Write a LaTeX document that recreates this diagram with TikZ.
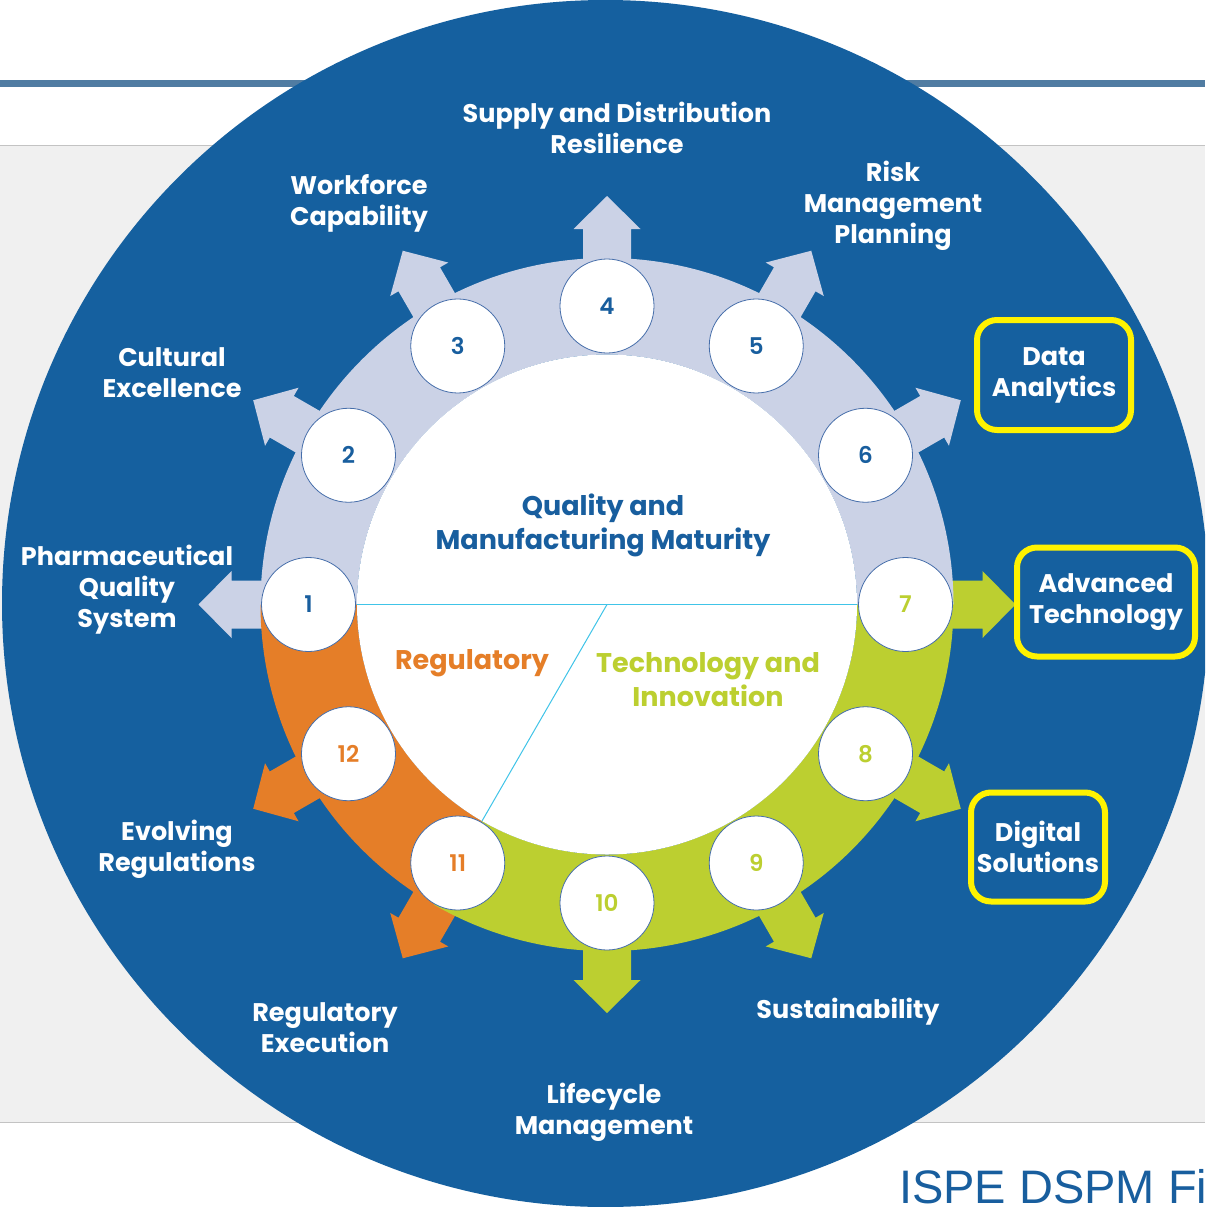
\documentclass[tikz,border=0pt]{standalone}
\usepackage{fontspec}
\setmainfont{Poppins}
\newfontfamily\arialfont{Liberation Sans}
\IfFontExistsTF{Poppins SemiBold}{\newfontfamily\numfont{Poppins SemiBold}}{%
  \IfFontExistsTF{Poppins Medium}{\newfontfamily\numfont{Poppins Medium}}{\newcommand\numfont{\bfseries}}}
\definecolor{ispeblue}{RGB}{21,96,159}
\definecolor{lav}{RGB}{203,210,230}
\definecolor{orng}{RGB}{229,126,40}
\definecolor{grn}{RGB}{188,207,48}
\definecolor{nodeedge}{RGB}{70,110,170}
\definecolor{divline}{RGB}{64,196,232}
\definecolor{topline}{RGB}{80,124,162}
\definecolor{band}{RGB}{240,240,240}
\definecolor{bandedge}{RGB}{195,195,195}
\definecolor{ylw}{RGB}{255,242,0}
\definecolor{txtblue}{RGB}{24,94,158}
\begin{document}
\begin{tikzpicture}[x=1pt,y=-1pt,
  lbl/.style={text=white, font=\fontsize{25.5}{31}\selectfont\bfseries, align=center, inner sep=0pt},
  ctr/.style={font=\fontsize{27}{34}\selectfont\bfseries, align=center, inner sep=0pt},
  ybox/.style={draw=ylw, line width=6pt, rounded corners=20pt, inner sep=0pt},
  numnode/.style={circle, fill=white, draw=nodeedge, line width=0.8pt, minimum size=94pt, inner sep=0pt, font=\fontsize{23}{23}\selectfont\numfont},
  divider/.style={divline, line width=1pt}
]
\useasboundingbox (0,0) rectangle (1205,1207);
\clip (0,0) rectangle (1205,1207);
% background
\fill[white] (0,0) rectangle (1205,1207);
\fill[topline] (0,80) rectangle (1205,87);
\fill[band] (0,145) rectangle (1205,1122);
\draw[bandedge, line width=1pt] (0,145) -- (1205,145) (0,1122) -- (1205,1122);
% big circle
\fill[ispeblue] (605.5,603.5) circle[radius=603.5];
% ring, arrows and number nodes
\begin{scope}[shift={(607,604.5)}, y=1pt]
  \foreach \a/\c in {180/lav,150/lav,120/lav,90/lav,60/lav,30/lav,0/grn,-30/grn,-60/grn,-90/grn,-120/orng,-150/orng}
    \fill[\c, rotate=\a] (320,-24) -- (375.5,-24) -- (375.5,-33.5) -- (408.5,0) -- (375.5,33.5) -- (375.5,24) -- (320,24) -- cycle;
  \fill[lav] (0:346.5) arc[start angle=0, end angle=180, radius=346.5] -- (180:250) arc[start angle=180, end angle=0, radius=250] -- cycle;
  \fill[orng] (180:346.5) arc[start angle=180, end angle=240, radius=346.5] -- (240:250) arc[start angle=240, end angle=180, radius=250] -- cycle;
  \fill[grn] (240:346.5) arc[start angle=240, end angle=360, radius=346.5] -- (0:250) arc[start angle=360, end angle=240, radius=250] -- cycle;
  \fill[white] (0,0) circle[radius=250];
  \coordinate (cc) at (0,0);
  \coordinate (cl) at (180:250);
  \coordinate (cr) at (0:250);
  \coordinate (cb) at (240:250);
  \draw[divider] (cl) -- (cr);
  \draw[divider] (cc) -- (cb);
  \foreach \i/\a/\c in {1/180/txtblue,2/150/txtblue,3/120/txtblue,4/90/txtblue,5/60/txtblue,6/30/txtblue,7/0/grn,8/-30/grn,9/-60/grn,10/-90/grn,11/-120/orng,12/-150/orng}
    \node[numnode, text=\c] (n\i) at (\a:298.5) {\i};
\end{scope}
% centre texts
\node[ctr, text=txtblue] (qmm) at (603,525) {Quality and\\Manufacturing Maturity};
\node[ctr, text=orng] (reg) at (472,663) {Regulatory};
\node[ctr, text=grn] (tech) at (708,680) {Technology and\\Innovation};
% outer labels
\node[lbl] (supply) at (617,128) {Supply and Distribution\\Resilience};
\node[lbl] (work) at (359,203.5) {Workforce\\Capability};
\node[lbl] (risk) at (893,205.5) {Risk\\Management\\Planning};
\node[lbl] (cult) at (172,373) {Cultural\\Excellence};
\node[lbl] (pqs) at (127,589.5) {Pharmaceutical\\Quality\\System};
\node[lbl] (evol) at (177,849) {Evolving\\Regulations};
\node[lbl] (rexe) at (325,1028) {Regulatory\\Execution};
\node[lbl] (sust) at (848,1012) {Sustainability};
\node[lbl] (life) at (604,1112) {Lifecycle\\Management};
% highlighted labels
\node[lbl, ybox, minimum width=154pt, minimum height=110pt] (data) at (1054,375) {Data\\Analytics};
\node[lbl, ybox, minimum width=178pt, minimum height=109pt] (adv) at (1106,602) {Advanced\\Technology};
\node[lbl, ybox, minimum width=134pt, minimum height=109pt] (dig) at (1038,847) {Digital\\Solutions};
% caption
\node[anchor=base west, inner sep=0pt, text=txtblue, font=\arialfont\fontsize{47}{47}\selectfont] (ispe) at (899,1203) {ISPE DSPM Fi};
\end{tikzpicture}
\end{document}
